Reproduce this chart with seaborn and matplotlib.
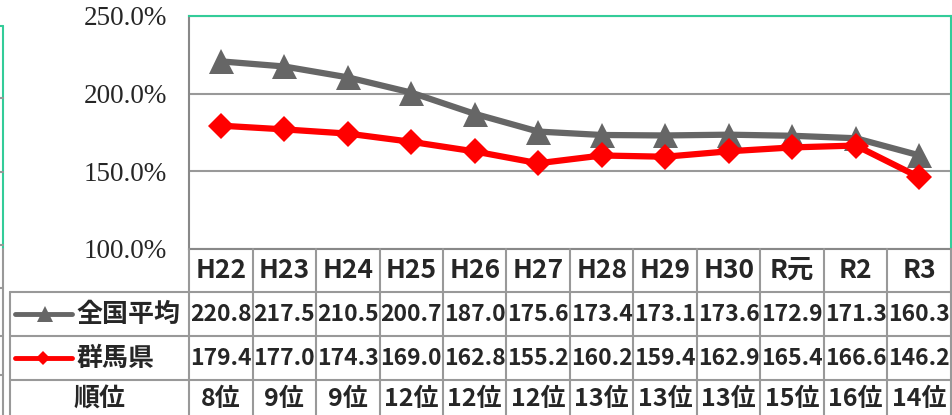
import numpy as np
import matplotlib
matplotlib.use("Agg")
import matplotlib.pyplot as plt
import seaborn as sns
from matplotlib.lines import Line2D
from matplotlib.transforms import blended_transform_factory

years = ["H22", "H23", "H24", "H25", "H26", "H27", "H28", "H29", "H30", "R元", "R2", "R3"]
national = [220.8, 217.5, 210.5, 200.7, 187.0, 175.6, 173.4, 173.1, 173.6, 172.9, 171.3, 160.3]
gunma = [179.4, 177.0, 174.3, 169.0, 162.8, 155.2, 160.2, 159.4, 162.9, 165.4, 166.6, 146.2]
ranks = ["8位", "9位", "9位", "12位", "12位", "12位", "13位", "13位", "13位", "15位", "16位", "14位"]
y_ticks = [100, 150, 200, 250]

GRAY = "#666666"
RED = "#FF0000"
TEAL = "#33CC99"
GRID = "#999999"

sns.set_style("white")
plt.rcParams["font.family"] = ["Noto Sans CJK JP", "DejaVu Sans"]

W, H = 953, 415
fig = plt.figure(figsize=(W / 100, H / 100), dpi=100)


def fx(px):
    return px / W


def fy(py):
    return 1 - py / H


ax = fig.add_axes([fx(189), fy(249), fx(951) - fx(189), fy(16) - fy(249)])
xs = np.arange(len(years))

sns.lineplot(x=xs, y=national, color=GRAY, lw=4.5, marker="^", markersize=18,
             markeredgewidth=0, ax=ax, zorder=3)
sns.lineplot(x=xs, y=gunma, color=RED, lw=4.5, marker="D", markersize=13,
             markeredgewidth=0, ax=ax, zorder=4)

ax.set_xlim(-0.5, len(years) - 0.5)
ax.set_ylim(100, 250)
ax.set_xticks([])
ax.set_yticks(y_ticks)
ax.set_yticklabels([f"{v:.1f}%" for v in y_ticks], fontfamily="Liberation Serif", fontsize=19.5)
ax.tick_params(axis="y", length=0, pad=16)
ax.yaxis.grid(True, color=GRID, lw=1.5)
ax.set_axisbelow(True)
ax.set_xlabel("")
ax.set_ylabel("")
for side in ["left", "bottom"]:
    ax.spines[side].set_color("#888888")
    ax.spines[side].set_linewidth(1.5)
for side in ["top", "right"]:
    ax.spines[side].set_color(TEAL)
    ax.spines[side].set_linewidth(1.5)

# data table under the chart
trans = blended_transform_factory(ax.transData, fig.transFigure)
line_kw = dict(color=GRID, lw=1.5)
for k in range(len(years) + 1):
    fig.add_artist(Line2D([k - 0.5, k - 0.5], [fy(249), fy(415)], transform=trans, **line_kw))
for py in [292, 336, 380]:
    fig.add_artist(Line2D([fx(10), fx(951)], [fy(py), fy(py)], transform=fig.transFigure, **line_kw))
fig.add_artist(Line2D([fx(10), fx(10)], [fy(292), fy(415)], transform=fig.transFigure, **line_kw))

for i, yr in enumerate(years):
    fig.text(i, fy(270), yr, transform=trans, ha="center", va="center",
             fontsize=19, fontweight="bold")
    fig.text(i, fy(314), f"{national[i]:.1f}", transform=trans, ha="center", va="center",
             fontsize=16.5, fontweight="bold")
    fig.text(i, fy(358), f"{gunma[i]:.1f}", transform=trans, ha="center", va="center",
             fontsize=16.5, fontweight="bold")
    fig.text(i, fy(399), ranks[i], transform=trans, ha="center", va="center",
             fontsize=18, fontweight="bold")

# row labels with legend keys
fig.add_artist(Line2D([fx(15), fx(72)], [fy(314), fy(314)], transform=fig.transFigure,
                      color=GRAY, lw=3.5, solid_capstyle="round"))
fig.add_artist(Line2D([fx(45)], [fy(314)], transform=fig.transFigure, color=GRAY,
                      marker="^", markersize=11, markeredgewidth=0))
fig.add_artist(Line2D([fx(15), fx(72)], [fy(358), fy(358)], transform=fig.transFigure,
                      color=RED, lw=3.5, solid_capstyle="round"))
fig.add_artist(Line2D([fx(43)], [fy(358)], transform=fig.transFigure, color=RED,
                      marker="D", markersize=7, markeredgewidth=0))
fig.text(fx(76), fy(314), "全国平均", ha="left", va="center", fontsize=18.7, fontweight="bold")
fig.text(fx(76), fy(358), "群馬県", ha="left", va="center", fontsize=18.7, fontweight="bold")
fig.text(fx(100), fy(399), "順位", ha="center", va="center", fontsize=18.7, fontweight="bold")

# edge of the neighbouring chart on the left
fig.add_artist(Line2D([fx(3), fx(3)], [fy(26), fy(249)], transform=fig.transFigure, color=TEAL, lw=1.5))
fig.add_artist(Line2D([fx(0), fx(3)], [fy(26), fy(26)], transform=fig.transFigure, color=TEAL, lw=1.5))
fig.add_artist(Line2D([fx(3), fx(3)], [fy(249), fy(415)], transform=fig.transFigure, **line_kw))
for py in [98, 172, 245, 288, 336, 375]:
    fig.add_artist(Line2D([fx(0), fx(3)], [fy(py), fy(py)], transform=fig.transFigure, **line_kw))

fig.savefig("out.png", dpi=100)
